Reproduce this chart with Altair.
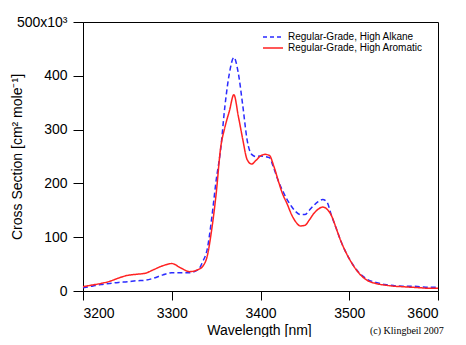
import altair as alt
import pandas as pd

# ---- data ----
wavelength = [3200, 3210, 3220, 3230, 3240, 3250, 3260, 3270, 3280, 3290,
              3300, 3310, 3320, 3330, 3335, 3340, 3345, 3350, 3355, 3360,
              3365, 3370, 3375, 3380, 3385, 3390, 3395, 3400, 3405, 3410,
              3415, 3420, 3425, 3430, 3435, 3440, 3445, 3450, 3455, 3460,
              3465, 3470, 3475, 3480, 3485, 3490, 3495, 3500, 3510, 3520,
              3530, 3540, 3550, 3560, 3570, 3580, 3590, 3600]

alkane = [6, 9, 12, 14, 16, 17, 19, 20, 24, 30,
          34, 34, 34, 40, 55, 78, 135, 205, 262, 345,
          405, 434, 405, 345, 280, 254, 250, 251, 250, 248,
          228, 205, 186, 170, 157, 147, 142, 142, 150, 159,
          166, 170, 165, 140, 118, 95, 76, 60, 36, 22,
          16, 12, 10, 9, 9, 8, 7, 7]

aromatic = [8, 11, 14, 18, 24, 29, 31, 33, 40, 47,
            51, 43, 36, 40, 46, 65, 114, 180, 265, 305,
            335, 365, 325, 282, 244, 236, 243, 251, 254, 252,
            232, 205, 180, 162, 142, 128, 121, 122, 132, 144,
            152, 156, 152, 140, 118, 95, 76, 60, 35, 20,
            14, 11, 9, 8, 7, 6, 5, 5]

series_names = ["Regular-Grade, High Alkane", "Regular-Grade, High Aromatic"]
series_colors = ["#2b2bff", "#ff2222"]
x_ticks = [3200, 3300, 3400, 3500, 3600]
y_ticks = [0, 100, 200, 300, 400, 500]

rows = []
for name, vals in zip(series_names, [alkane, aromatic]):
    for w, v in zip(wavelength, vals):
        rows.append({"wavelength": w, "value": v, "series": name})
df = pd.DataFrame(rows)

W, H = 355, 269
FONT = "Liberation Sans"

color_scale = alt.Scale(domain=series_names, range=series_colors)
dash_scale = alt.Scale(domain=series_names, range=[[5, 3], [1, 0]])

lines = alt.Chart(df).mark_line(strokeWidth=1.5, interpolate="monotone").encode(
    x=alt.X("wavelength:Q",
            scale=alt.Scale(domain=[3200, 3600], nice=False, zero=False),
            axis=alt.Axis(values=x_ticks, title="Wavelength [nm]", format="d",
                          titleX=176, titleY=46, titleBaseline="bottom",
                          labelPadding=6, tickSize=9)),
    y=alt.Y("value:Q",
            scale=alt.Scale(domain=[0, 500], nice=False),
            axis=alt.Axis(values=y_ticks,
                          labelExpr="datum.value == 500 ? '500x10\u00b3' : datum.label",
                          title="Cross Section [cm\u00b2 mole\u207b\u00b9]",
                          titleX=-66, titleY=H / 2, titleAngle=-90,
                          titleAlign="center", titleBaseline="middle",
                          labelPadding=6)),
    color=alt.Color("series:N", scale=color_scale, legend=None),
    strokeDash=alt.StrokeDash("series:N", scale=dash_scale, legend=None),
    order=alt.Order("series:N", sort="descending"),
)

legend_layers = []
for i, (name, col) in enumerate(zip(series_names, series_colors)):
    yy = 15 + i * 11
    sub = alt.Chart(pd.DataFrame({"series": [name]}))
    legend_layers.append(
        sub.mark_rule(strokeWidth=1.5, color=col,
                      strokeDash=[4, 3] if i == 0 else [1, 0]).encode(
            x=alt.value(180), x2=alt.value(200), y=alt.value(yy)))
    legend_layers.append(
        sub.mark_text(align="left", baseline="middle", font=FONT,
                      fontSize=10, color="black").encode(
            x=alt.value(205), y=alt.value(yy), text="series:N"))

credit = alt.Chart(pd.DataFrame({"t": ["(c) Klingbeil 2007"]})).mark_text(
    align="left", baseline="bottom", font="Liberation Serif",
    fontSize=10, color="black").encode(
    x=alt.value(287), y=alt.value(314), text="t:N")

chart = alt.layer(lines, *legend_layers, credit).properties(
    width=W, height=H,
    autosize=alt.AutoSizeParams(type="none"),
    padding={"left": 75, "top": 14, "right": 20, "bottom": 46},
).configure_view(
    stroke="black", strokeWidth=1
).configure_axis(
    grid=False, domainColor="black", domainWidth=1, tickColor="black",
    tickSize=10, tickWidth=1, labelFont=FONT, labelFontSize=14,
    labelColor="black", titleFont=FONT, titleFontSize=14,
    titleColor="black", titleFontWeight="normal"
)

chart.save("out.html", embed_options={"renderer": "svg", "actions": False})
